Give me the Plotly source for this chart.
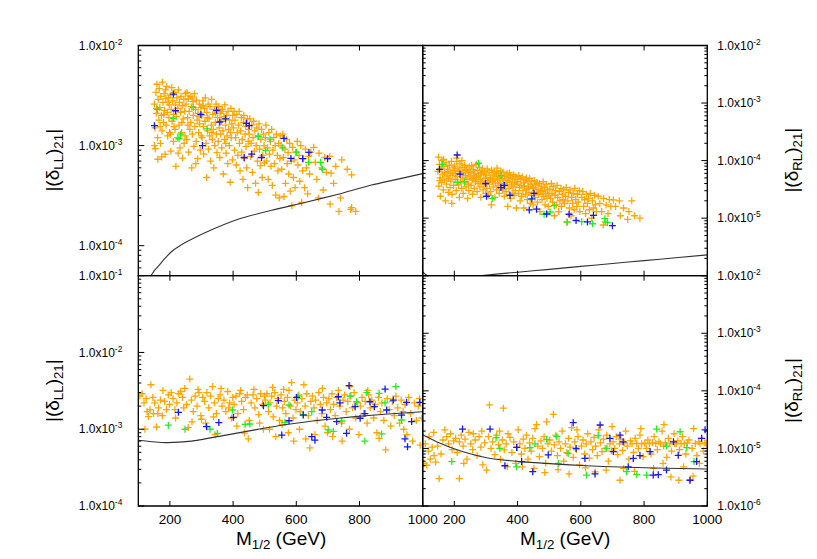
import math

import plotly.graph_objects as go

# ---------------------------------------------------------------------------
# data: (M_1/2 [GeV], |delta|) pairs per panel / colour
# ---------------------------------------------------------------------------
TL_ORANGE = [
    (151, 2.6e-3), (153, 1.5e-3), (156, 3.4e-3), (157, 2.1e-3), (159, 4.1e-3), (161, 1.2e-3), (163, 2.9e-3),
    (165, 1.8e-3), (166, 3.7e-3), (168, 2.4e-3), (170, 1.05e-3), (171, 3.1e-3), (173, 2.0e-3), (175, 1.4e-3),
    (176, 4.3e-3), (178, 2.7e-3), (180, 1.7e-3), (182, 3.3e-3), (183, 2.25e-3), (185, 8.2e-4), (187, 2.95e-3),
    (188, 1.6e-3), (190, 3.9e-3), (192, 2.15e-3), (193, 1.25e-3), (195, 3.0e-3), (197, 1.9e-3), (198, 2.55e-3),
    (154, 9.3e-4), (162, 7.3e-4), (174, 7.7e-4), (186, 3.6e-3), (199, 1.35e-3), (158, 2.35e-3), (169, 1.55e-3),
    (181, 2.05e-3), (194, 2.7e-3), (151, 1.0e-3),
    (201, 3.2e-3), (202, 1.3e-3), (204, 2.3e-3), (206, 3.8e-3), (207, 1.75e-3), (209, 2.8e-3), (211, 1.1e-3),
    (212, 2.05e-3), (214, 3.4e-3), (216, 1.45e-3), (217, 2.55e-3), (219, 6.2e-4), (220, 1.95e-3), (222, 3.0e-3),
    (224, 1.2e-3), (225, 2.35e-3), (227, 3.6e-3), (229, 1.6e-3), (230, 2.7e-3), (232, 9.5e-4), (234, 2.15e-3),
    (235, 3.1e-3), (237, 1.35e-3), (239, 2.5e-3), (240, 7.5e-4), (242, 1.85e-3), (244, 2.9e-3), (245, 1.05e-3),
    (247, 2.2e-3), (249, 3.3e-3), (203, 8.8e-4), (213, 1.55e-3), (226, 8.4e-4), (238, 1.7e-3), (248, 1.25e-3),
    (251, 2.6e-3), (253, 1.15e-3), (254, 3.4e-3), (256, 1.9e-3), (258, 2.95e-3), (259, 8.6e-4), (261, 2.2e-3),
    (263, 1.45e-3), (264, 3.1e-3), (266, 1.7e-3), (268, 2.45e-3), (269, 6.0e-4), (271, 1.3e-3), (273, 2.75e-3),
    (274, 2.0e-3), (276, 9.8e-4), (278, 3.3e-3), (279, 1.55e-3), (281, 2.3e-3), (283, 1.1e-3), (284, 2.85e-3),
    (286, 1.8e-3), (288, 7.4e-4), (289, 2.1e-3), (291, 1.35e-3), (293, 2.6e-3), (294, 1.65e-3), (296, 9.0e-4),
    (298, 2.4e-3), (299, 1.25e-3), (257, 1.6e-3), (270, 3.0e-3), (282, 6.6e-4), (292, 1.95e-3),
    (301, 2.0e-3), (302, 1.2e-3), (304, 2.8e-3), (306, 1.55e-3), (307, 8.2e-4), (309, 2.35e-3), (311, 1.75e-3),
    (312, 3.0e-3), (314, 1.05e-3), (316, 4.8e-4), (317, 2.15e-3), (319, 1.4e-3), (321, 2.6e-3), (322, 9.2e-4),
    (324, 1.85e-3), (326, 1.25e-3), (327, 2.45e-3), (329, 7.0e-4), (331, 1.6e-3), (332, 2.9e-3), (334, 1.15e-3),
    (336, 2.05e-3), (337, 1.45e-3), (339, 6.0e-4), (341, 2.3e-3), (342, 1.0e-3), (344, 1.7e-3), (346, 2.6e-3),
    (347, 1.3e-3), (349, 8.5e-4), (305, 2.5e-3), (318, 1.9e-3), (333, 1.35e-3), (345, 2.1e-3),
    (351, 1.9e-3), (353, 1.1e-3), (354, 2.45e-3), (356, 1.5e-3), (358, 7.6e-4), (359, 2.1e-3), (361, 1.3e-3),
    (363, 1.75e-3), (364, 9.5e-4), (366, 2.3e-3), (368, 1.4e-3), (369, 5.2e-4), (371, 1.95e-3), (373, 1.15e-3),
    (374, 2.55e-3), (376, 1.6e-3), (378, 8.4e-4), (379, 2.0e-3), (381, 1.25e-3), (383, 6.6e-4), (384, 2.2e-3),
    (386, 1.45e-3), (388, 1.0e-3), (389, 1.8e-3), (391, 4.3e-4), (393, 2.35e-3), (394, 1.2e-3), (396, 1.65e-3),
    (398, 7.2e-4), (399, 2.0e-3), (362, 2.2e-3), (377, 1.05e-3), (392, 1.35e-3),
    (401, 1.5e-3), (403, 2.2e-3), (405, 9.0e-4), (406, 1.8e-3), (408, 1.2e-3), (410, 6.4e-4), (412, 2.05e-3),
    (413, 1.35e-3), (415, 8.0e-4), (417, 1.6e-3), (419, 2.2e-3), (420, 1.05e-3), (422, 5.6e-4), (424, 1.4e-3),
    (426, 1.9e-3), (427, 8.6e-4), (429, 1.15e-3), (431, 4.6e-4), (433, 1.7e-3), (434, 2.0e-3), (436, 7.4e-4),
    (438, 1.3e-3), (440, 1.55e-3), (441, 9.8e-4), (443, 6.0e-4), (445, 1.85e-3), (446, 3.8e-4), (448, 1.1e-3),
    (449, 1.45e-3),
    (451, 1.3e-3), (453, 1.85e-3), (455, 7.8e-4), (457, 1.05e-3), (459, 1.6e-3), (461, 5.4e-4), (463, 1.2e-3),
    (465, 1.75e-3), (467, 8.8e-4), (469, 1.4e-3), (471, 4.2e-4), (473, 1.0e-3), (475, 1.5e-3), (477, 7.0e-4),
    (479, 1.25e-3), (480, 3.4e-4), (482, 1.65e-3), (484, 9.2e-4), (486, 6.3e-4), (488, 1.15e-3), (490, 1.45e-3),
    (492, 4.8e-4), (494, 8.0e-4), (496, 1.3e-3), (498, 1.0e-3), (499, 6.7e-4),
    (502, 1.2e-3), (504, 1.6e-3), (506, 7.0e-4), (509, 9.5e-4), (511, 4.6e-4), (513, 1.35e-3), (515, 8.2e-4),
    (518, 1.1e-3), (520, 6.2e-4), (522, 1.45e-3), (524, 4.0e-4), (526, 9.0e-4), (529, 1.2e-3), (531, 6.6e-4),
    (533, 1.0e-3), (535, 3.2e-4), (537, 1.3e-3), (540, 8.0e-4), (542, 5.6e-4), (544, 1.05e-3), (546, 3.0e-4),
    (548, 7.4e-4), (549, 1.25e-3),
    (552, 1.0e-3), (554, 5.8e-4), (557, 1.3e-3), (559, 7.6e-4), (561, 3.1e-4), (564, 9.2e-4), (566, 4.2e-4),
    (569, 1.15e-3), (571, 6.6e-4), (574, 8.5e-4), (576, 5.2e-4), (579, 1.05e-3), (581, 3.5e-4), (584, 7.0e-4),
    (586, 2.5e-4), (588, 9.6e-4), (591, 4.8e-4), (593, 7.2e-4), (596, 3.8e-4), (598, 8.6e-4),
    (603, 1.1e-3), (605, 6.4e-4), (608, 8.0e-4), (611, 4.4e-4), (614, 1.0e-3), (617, 2.7e-4), (620, 5.6e-4),
    (623, 7.4e-4), (626, 3.8e-4), (629, 9.2e-4), (632, 6.0e-4), (636, 3.3e-4), (639, 7.8e-4), (642, 5.2e-4),
    (646, 8.6e-4),
    (655, 9.6e-4), (672, 8.4e-4), (690, 7.6e-4), (660, 6.8e-4), (680, 6.0e-4), (695, 5.4e-4),
    (665, 4.6e-4), (685, 3.6e-4), (670, 3.0e-4),
    (706, 7.8e-4), (744, 7.2e-4), (710, 5.3e-4), (725, 6.2e-4), (761, 5.8e-4), (775, 5.1e-4),
    (707, 2.6e-4), (735, 2.2e-4), (772, 2.3e-4), (788, 2.2e-4), (775, 2.4e-4), (718, 4.2e-4), (740, 3.0e-4),
]
TL_GREEN = [
    (161, 2.3e-3), (211, 1.87e-3), (274, 2.41e-3), (234, 1.3e-3), (229, 1.17e-3), (318, 1.47e-3),
    (480, 1.24e-3), (517, 1.16e-3), (503, 8.95e-4), (557, 9.5e-4), (601, 8.6e-4), (639, 6.8e-4),
    (677, 6.8e-4), (683, 5.8e-4),
]
TL_BLUE = [
    (211, 3.27e-3), (151, 1.58e-3), (218, 2.23e-3), (298, 2.05e-3), (348, 2.25e-3), (358, 1.72e-3),
    (376, 1.85e-3), (442, 1.67e-3), (451, 1.58e-3), (303, 1.0e-3), (435, 7.6e-4), (459, 8.2e-4),
    (490, 7.6e-4), (561, 1.18e-3), (583, 7.45e-4), (620, 7.4e-4), (640, 8.55e-4), (699, 7.4e-4),
]
TL_CURVE_X = [140, 150, 163, 180, 205, 250, 311, 416, 522, 627, 733, 838, 1000]
TL_CURVE_Y = [5.0e-5, 5.6e-5, 6.2e-5, 7.2e-5, 8.7e-5, 1.08e-4, 1.35e-4, 1.84e-4, 2.26e-4,
              2.7e-4, 3.27e-4, 4.03e-4, 5.25e-4]

TR_ORANGE = [
    (148, 6.5e-5), (150, 1.15e-4), (151, 3.6e-5), (153, 8.6e-5), (155, 5.0e-5), (156, 2.4e-5), (158, 7.2e-5),
    (160, 4.2e-5), (161, 1.0e-4), (163, 5.8e-5), (165, 3.1e-5), (167, 7.9e-5), (168, 4.6e-5), (170, 6.2e-5),
    (172, 2.0e-5), (174, 9.2e-5), (175, 3.9e-5), (177, 5.4e-5), (179, 7.0e-5), (181, 2.8e-5), (182, 4.9e-5),
    (184, 8.3e-5), (186, 3.4e-5), (188, 6.0e-5), (189, 4.4e-5), (191, 9.7e-5), (193, 2.6e-5), (195, 5.6e-5),
    (196, 7.5e-5), (198, 3.7e-5), (199, 6.7e-5), (154, 4.5e-5), (166, 1.05e-4), (180, 6.4e-5), (192, 1.8e-5),
    (201, 8.0e-5), (203, 4.7e-5), (204, 6.0e-5), (206, 3.0e-5), (208, 9.6e-5), (209, 5.3e-5), (211, 7.2e-5),
    (213, 3.8e-5), (215, 6.6e-5), (216, 2.3e-5), (218, 8.8e-5), (220, 4.4e-5), (221, 5.9e-5), (223, 3.3e-5),
    (225, 7.6e-5), (227, 5.0e-5), (228, 2.7e-5), (230, 6.3e-5), (232, 4.1e-5), (233, 8.3e-5), (235, 5.5e-5),
    (237, 3.5e-5), (239, 7.0e-5), (240, 4.7e-5), (242, 2.2e-5), (244, 6.1e-5), (245, 3.9e-5), (247, 7.8e-5),
    (249, 5.2e-5), (207, 1.1e-4), (224, 1.0e-4), (236, 6.8e-5), (246, 3.0e-5),
    (251, 6.4e-5), (253, 3.7e-5), (255, 8.2e-5), (256, 4.9e-5), (258, 2.6e-5), (260, 7.0e-5), (262, 5.6e-5),
    (263, 3.3e-5), (265, 6.0e-5), (267, 4.3e-5), (269, 8.6e-5), (270, 5.1e-5), (272, 2.9e-5), (274, 6.7e-5),
    (275, 4.0e-5), (277, 5.4e-5), (279, 7.6e-5), (281, 3.5e-5), (282, 4.7e-5), (284, 2.3e-5), (286, 6.2e-5),
    (288, 4.4e-5), (289, 7.2e-5), (291, 3.1e-5), (293, 5.8e-5), (294, 3.8e-5), (296, 6.6e-5), (298, 4.9e-5),
    (299, 2.7e-5), (259, 4.6e-5), (283, 5.9e-5),
    (301, 5.6e-5), (303, 3.3e-5), (304, 7.2e-5), (306, 4.5e-5), (308, 2.5e-5), (310, 6.2e-5), (311, 3.9e-5),
    (313, 5.1e-5), (315, 2.9e-5), (317, 1.7e-5), (318, 6.8e-5), (320, 4.3e-5), (322, 5.6e-5), (323, 3.5e-5),
    (325, 4.8e-5), (327, 6.4e-5), (328, 2.3e-5), (330, 4.1e-5), (332, 5.3e-5), (333, 3.1e-5), (335, 7.4e-5),
    (337, 4.6e-5), (339, 3.7e-5), (340, 6.0e-5), (342, 2.7e-5), (344, 5.0e-5), (345, 4.0e-5), (347, 6.6e-5),
    (349, 3.4e-5), (314, 4.7e-5), (334, 5.9e-5),
    (351, 4.9e-5), (353, 3.1e-5), (354, 6.3e-5), (356, 4.0e-5), (358, 2.4e-5), (359, 5.4e-5), (361, 3.6e-5),
    (363, 4.6e-5), (364, 2.9e-5), (366, 5.9e-5), (368, 4.2e-5), (369, 1.6e-5), (371, 5.1e-5), (373, 3.3e-5),
    (374, 6.1e-5), (376, 4.4e-5), (378, 2.2e-5), (379, 5.5e-5), (381, 3.8e-5), (383, 2.7e-5), (384, 4.8e-5),
    (386, 3.5e-5), (388, 5.7e-5), (389, 2.5e-5), (391, 4.1e-5), (393, 3.0e-5), (394, 5.2e-5), (396, 1.5e-5),
    (398, 3.9e-5), (399, 4.7e-5),
    (401, 4.3e-5), (403, 2.7e-5), (404, 5.5e-5), (406, 3.4e-5), (408, 2.0e-5), (410, 4.8e-5), (411, 3.7e-5),
    (413, 2.4e-5), (415, 5.2e-5), (417, 3.0e-5), (419, 4.1e-5), (420, 1.5e-5), (422, 3.6e-5), (424, 4.6e-5),
    (426, 2.6e-5), (428, 5.0e-5), (429, 3.2e-5), (431, 2.1e-5), (433, 4.3e-5), (435, 3.5e-5), (436, 2.8e-5),
    (438, 4.9e-5), (440, 1.8e-5), (442, 3.9e-5), (444, 2.5e-5), (445, 4.4e-5), (447, 3.3e-5), (449, 1.7e-5),
    (451, 3.4e-5), (453, 4.5e-5), (455, 2.3e-5), (457, 3.8e-5), (459, 2.8e-5), (461, 4.2e-5), (463, 1.9e-5),
    (465, 3.2e-5), (467, 2.6e-5), (469, 4.0e-5), (471, 1.3e-5), (473, 3.0e-5), (475, 3.6e-5), (477, 2.1e-5),
    (479, 2.9e-5), (481, 4.3e-5), (483, 2.4e-5), (485, 3.4e-5), (487, 1.7e-5), (489, 2.7e-5), (491, 3.9e-5),
    (493, 2.2e-5), (495, 3.1e-5), (497, 1.6e-5), (499, 2.5e-5),
    (502, 3.2e-5), (504, 2.2e-5), (507, 4.0e-5), (509, 2.7e-5), (511, 1.9e-5), (513, 3.5e-5), (516, 1.1e-5),
    (518, 2.5e-5), (520, 3.0e-5), (523, 1.7e-5), (525, 3.7e-5), (527, 2.3e-5), (530, 1.3e-5), (532, 2.9e-5),
    (534, 2.0e-5), (537, 3.3e-5), (539, 1.6e-5), (541, 2.6e-5), (544, 2.1e-5), (546, 3.1e-5), (548, 1.8e-5),
    (552, 2.4e-5), (554, 3.4e-5), (556, 8.6e-6), (559, 2.0e-5), (561, 2.8e-5), (564, 1.5e-5), (566, 3.1e-5),
    (569, 1.1e-5), (571, 2.3e-5), (574, 1.8e-5), (576, 2.7e-5), (579, 1.4e-5), (581, 3.3e-5), (584, 2.1e-5),
    (587, 1.6e-5), (589, 2.6e-5), (592, 1.9e-5), (595, 3.0e-5), (597, 1.3e-5),
    (603, 2.3e-5), (606, 2.9e-5), (609, 1.6e-5), (612, 2.1e-5), (615, 1.2e-5), (618, 2.6e-5), (621, 1.8e-5),
    (624, 2.2e-5), (627, 1.4e-5), (630, 2.7e-5), (634, 1.0e-5), (637, 2.0e-5), (640, 1.5e-5), (643, 2.5e-5),
    (646, 1.7e-5), (649, 1.3e-5),
    (655, 2.4e-5), (672, 2.2e-5), (690, 2.1e-5), (660, 1.8e-5), (680, 1.7e-5), (695, 1.6e-5),
    (666, 1.3e-5), (686, 1.2e-5), (671, 7.6e-6), (677, 8.6e-6),
    (703, 2.07e-5), (722, 2.0e-5), (761, 2.0e-5), (710, 1.6e-5), (735, 1.5e-5), (752, 1.3e-5),
    (725, 1.1e-5), (748, 9.5e-6), (787, 1.0e-5), (770, 1.1e-5),
]
TR_GREEN = [
    (162, 8.6e-5), (276, 9.0e-5), (209, 4.2e-5), (232, 4.3e-5), (348, 5.5e-5), (320, 2.19e-5),
    (516, 1.65e-5), (503, 1.28e-5), (484, 1.17e-5), (557, 8.5e-6), (603, 8.7e-6), (637, 8.0e-6),
    (676, 9.8e-6), (684, 8.4e-6),
]
TR_BLUE = [
    (209, 1.25e-4), (153, 7.06e-5), (218, 5.8e-5), (299, 4.0e-5), (347, 3.4e-5), (358, 3.7e-5),
    (302, 2.4e-5), (376, 2.5e-5), (452, 2.7e-5), (445, 2.16e-5), (437, 1.39e-5), (460, 1.43e-5),
    (492, 1.18e-5), (563, 1.17e-5), (585, 9.1e-6), (621, 8.6e-6), (640, 1.12e-5), (700, 7.4e-6),
]
TR_CURVE_X = [100, 115, 140, 180, 230, 280, 400, 500, 600, 700, 800, 900, 1000]
TR_CURVE_Y = [1.16e-6, 1.0e-6, 9.2e-7, 8.8e-7, 9.2e-7, 1.0e-6, 1.15e-6, 1.29e-6, 1.45e-6,
              1.63e-6, 1.83e-6, 2.05e-6, 2.3e-6]

BL_ORANGE = [
    (105, 2.7e-3), (112, 2.9e-3), (118, 2.2e-3), (125, 2.5e-3), (132, 1.46e-3), (140, 3.8e-3), (146, 2.6e-3),
    (152, 2.2e-3), (158, 1.07e-3), (164, 1.9e-3), (170, 2.4e-3), (176, 1.5e-3), (183, 2.3e-3), (189, 1.8e-3),
    (195, 2.8e-3), (121, 1.0e-3), (137, 1.8e-3), (148, 1.6e-3), (178, 3.2e-3), (199, 2.1e-3), (128, 1.7e-3),
    (162, 1.6e-3),
    (204, 3.0e-3), (210, 2.5e-3), (216, 1.8e-3), (222, 2.2e-3), (228, 2.9e-3), (234, 3.1e-3), (240, 2.6e-3),
    (247, 3.4e-3), (253, 2.1e-3), (258, 1.05e-3), (263, 4.5e-3), (268, 2.4e-3), (274, 1.7e-3), (280, 2.7e-3),
    (286, 2.0e-3), (292, 3.0e-3), (298, 1.5e-3), (300, 1.35e-3), (218, 1.4e-3), (244, 1.9e-3), (270, 1.25e-3),
    (289, 3.3e-3),
    (304, 2.6e-3), (310, 2.3e-3), (317, 3.0e-3), (323, 1.9e-3), (329, 2.7e-3), (335, 3.6e-3), (341, 2.2e-3),
    (343, 8.5e-4), (347, 1.6e-3), (353, 2.5e-3), (359, 2.8e-3), (365, 2.0e-3), (371, 2.4e-3), (377, 1.7e-3),
    (383, 3.1e-3), (389, 2.2e-3), (395, 1.4e-3), (399, 2.6e-3), (313, 1.2e-3), (338, 1.45e-3), (362, 3.4e-3),
    (386, 1.9e-3),
    (403, 2.1e-3), (409, 2.7e-3), (415, 1.6e-3), (421, 2.9e-3), (427, 2.3e-3), (433, 1.8e-3), (439, 2.6e-3),
    (445, 2.8e-3), (451, 1.3e-3), (457, 2.2e-3), (463, 2.8e-3), (469, 1.9e-3), (475, 2.5e-3), (481, 1.55e-3),
    (487, 2.9e-3), (493, 2.1e-3), (499, 2.7e-3), (412, 1.1e-3), (436, 8.9e-4), (448, 7.5e-4), (466, 3.3e-3),
    (484, 1.2e-3), (424, 3.2e-3), (496, 1.0e-3),
    (502, 2.4e-3), (507, 2.9e-3), (512, 1.7e-3), (517, 2.2e-3), (522, 2.7e-3), (527, 1.45e-3), (532, 3.0e-3),
    (537, 2.0e-3), (542, 2.5e-3), (547, 1.3e-3), (552, 2.8e-3), (557, 1.9e-3), (562, 2.3e-3), (567, 1.6e-3),
    (572, 2.6e-3), (577, 3.2e-3), (582, 2.0e-3), (585, 4.05e-3), (590, 1.4e-3), (595, 2.4e-3), (599, 1.8e-3),
    (515, 1.0e-3), (535, 8.0e-4), (555, 1.15e-3), (575, 9.0e-4), (592, 7.0e-4), (525, 3.5e-3), (560, 3.3e-3),
    (603, 2.2e-3), (608, 2.8e-3), (613, 1.7e-3), (618, 2.5e-3), (624, 3.8e-3), (628, 2.0e-3), (633, 2.9e-3),
    (638, 1.5e-3), (643, 5.7e-4), (646, 2.3e-3), (651, 2.7e-3), (656, 1.9e-3), (661, 2.4e-3), (666, 1.3e-3),
    (671, 3.0e-3), (676, 2.1e-3), (681, 1.6e-3), (686, 2.6e-3), (691, 1.1e-3), (696, 2.2e-3), (610, 1.0e-3),
    (630, 7.5e-4), (659, 8.5e-4), (683, 3.4e-3), (699, 9.0e-4),
    (703, 2.5e-3), (708, 1.8e-3), (713, 2.9e-3), (718, 2.1e-3), (723, 1.5e-3), (728, 2.6e-3), (733, 3.2e-3),
    (738, 2.0e-3), (743, 1.2e-3), (748, 2.4e-3), (753, 2.8e-3), (758, 1.7e-3), (763, 2.3e-3), (768, 1.0e-3),
    (773, 2.7e-3), (778, 1.9e-3), (783, 3.0e-3), (788, 1.4e-3), (793, 2.2e-3), (798, 8.5e-4), (715, 8.0e-4),
    (745, 7.0e-4), (770, 3.6e-3),
    (803, 2.0e-3), (808, 2.6e-3), (813, 1.6e-3), (818, 2.3e-3), (824, 1.2e-3), (829, 2.8e-3), (834, 1.9e-3),
    (839, 2.4e-3), (845, 1.4e-3), (850, 2.1e-3), (855, 9.0e-4), (860, 2.6e-3), (866, 1.7e-3), (871, 2.2e-3),
    (877, 1.3e-3), (883, 5.4e-4), (888, 2.5e-3), (894, 1.8e-3), (899, 1.1e-3), (826, 3.2e-3), (862, 7.6e-4),
    (904, 2.3e-3), (910, 1.5e-3), (915, 2.7e-3), (921, 1.9e-3), (927, 1.2e-3), (932, 2.4e-3), (938, 1.7e-3),
    (944, 2.1e-3), (950, 8.5e-4), (956, 2.6e-3), (962, 1.6e-3), (968, 7.0e-4), (974, 2.2e-3), (980, 1.3e-3),
    (986, 2.0e-3), (992, 6.2e-4), (997, 1.4e-3), (940, 1.0e-3), (990, 2.5e-3),
]
BL_GREEN = [
    (195, 1.13e-3), (248, 1.0e-3), (327, 1.0e-3), (350, 8.85e-4), (398, 1.78e-3), (438, 1.16e-3),
    (453, 1.17e-3), (511, 2.1e-3), (564, 1.23e-3), (577, 2.07e-3), (606, 2.7e-3), (622, 1.56e-3),
    (649, 1.7e-3), (701, 9.8e-4), (717, 9.4e-4), (744, 1.28e-3), (770, 2.7e-3), (791, 2.28e-3),
    (817, 7.0e-4), (823, 3.0e-3), (862, 2.94e-3), (870, 8.7e-4), (881, 2.2e-3), (915, 3.6e-3),
    (933, 1.32e-3),
]
BL_BLUE = [
    (227, 1.66e-3), (316, 1.08e-3), (355, 1.22e-3), (401, 1.43e-3), (496, 2.03e-3), (543, 2.36e-3),
    (554, 8.4e-4), (577, 1.29e-3), (601, 2.6e-3), (622, 1.53e-3), (649, 8.0e-4), (659, 7.2e-4),
    (682, 1.78e-3), (696, 1.43e-3), (728, 1.26e-3), (733, 2.65e-3), (738, 2.2e-3), (759, 8.85e-4),
    (767, 3.7e-3), (786, 1.97e-3), (802, 1.39e-3), (817, 1.6e-3), (833, 2.28e-3), (847, 1.97e-3),
    (881, 3.34e-3), (886, 1.78e-3), (907, 2.4e-3), (933, 1.53e-3), (944, 7.5e-4), (952, 5.9e-4),
    (949, 2.24e-3), (965, 1.26e-3), (991, 2.24e-3),
]
BL_CURVE_X = [100, 184, 269, 364, 469, 575, 680, 786, 891, 1000]
BL_CURVE_Y = [7.2e-4, 6.7e-4, 7.0e-4, 8.2e-4, 9.8e-4, 1.16e-3, 1.32e-3, 1.46e-3, 1.58e-3, 1.69e-3]

BR_ORANGE = [
    (103, 5.5e-6), (108, 1.2e-5), (113, 5.1e-6), (118, 9.0e-6), (124, 6.5e-6), (130, 1.05e-5), (136, 7.5e-6),
    (141, 5.8e-6), (147, 1.1e-5), (152, 3.0e-6), (158, 8.0e-6), (164, 1.4e-5), (170, 2.1e-5), (176, 1.6e-5),
    (182, 1.2e-5), (188, 1.8e-5), (193, 9.5e-6), (198, 1.35e-5), (135, 1.9e-5), (120, 1.6e-5),
    (204, 1.5e-5), (209, 8.5e-6), (216, 1.3e-5), (216, 3.0e-6), (222, 1.7e-5), (228, 1.1e-5), (234, 1.45e-5),
    (240, 6.5e-6), (246, 1.9e-5), (252, 1.2e-5), (258, 9.5e-6), (260, 1.8e-5), (266, 1.4e-5), (272, 7.5e-6),
    (278, 1.6e-5), (284, 1.05e-5), (290, 5.2e-6), (296, 1.25e-5), (230, 5.5e-6), (287, 2.0e-5),
    (302, 4.2e-6), (308, 1.6e-5), (311, 5.7e-5), (316, 1.0e-5), (321, 1.3e-5), (328, 7.8e-6), (334, 1.7e-5),
    (340, 1.15e-5), (346, 6.5e-6), (352, 1.4e-5), (355, 5.0e-5), (358, 9.4e-6), (364, 1.2e-5), (370, 1.8e-5),
    (376, 1.55e-5), (382, 8.5e-6), (388, 1.3e-5), (394, 5.5e-6), (399, 1.05e-5), (343, 2.0e-5), (367, 4.8e-6),
    (402, 2.1e-5), (407, 1.2e-5), (412, 8.0e-6), (418, 1.45e-5), (423, 1.0e-5), (428, 1.7e-5), (433, 6.5e-6),
    (438, 1.25e-5), (443, 9.0e-6), (448, 1.5e-5), (455, 2.2e-5), (460, 2.6e-5), (464, 1.1e-5), (469, 7.2e-6),
    (474, 1.35e-5), (479, 1.0e-5), (484, 1.6e-5), (489, 5.5e-6), (492, 2.9e-5), (496, 1.2e-5), (415, 4.8e-6),
    (452, 4.5e-6), (486, 3.8e-6),
    (502, 1.4e-5), (507, 9.0e-6), (513, 3.9e-5), (516, 1.15e-5), (521, 1.7e-5), (526, 7.5e-6), (531, 1.3e-5),
    (536, 1.0e-5), (541, 2.0e-5), (546, 6.0e-6), (551, 1.2e-5), (556, 8.5e-6), (561, 1.5e-5), (566, 1.05e-5),
    (571, 2.3e-5), (576, 7.0e-6), (581, 1.3e-5), (586, 9.5e-6), (591, 1.6e-5), (596, 5.2e-6), (528, 4.3e-6),
    (563, 3.6e-6), (588, 2.1e-5),
    (602, 1.1e-5), (607, 1.4e-5), (612, 8.0e-6), (617, 1.2e-5), (622, 1.8e-5), (627, 6.8e-6), (632, 1.3e-5),
    (637, 9.5e-6), (642, 1.55e-5), (647, 1.1e-5), (652, 7.5e-6), (657, 2.1e-5), (662, 1.25e-5), (667, 8.8e-6),
    (672, 1.45e-5), (677, 1.0e-5), (682, 1.7e-5), (687, 6.0e-6), (692, 1.2e-5), (697, 9.0e-6), (615, 4.6e-6),
    (645, 3.9e-6), (680, 4.2e-6), (699, 2.4e-5),
    (702, 1.3e-5), (707, 1.0e-5), (712, 1.6e-5), (717, 7.8e-6), (722, 1.2e-5), (724, 2.8e-6), (727, 1.45e-5),
    (732, 9.2e-6), (737, 1.25e-5), (742, 2.0e-5), (747, 1.1e-5), (752, 6.5e-6), (757, 1.35e-5), (762, 1.2e-5),
    (767, 8.5e-6), (772, 1.5e-5), (777, 1.22e-5), (782, 1.0e-5), (787, 1.7e-5), (792, 1.2e-5), (797, 7.2e-6),
    (735, 4.5e-6), (770, 4.0e-6), (790, 2.2e-5),
    (802, 1.23e-5), (807, 1.0e-5), (812, 1.4e-5), (817, 1.2e-5), (822, 8.0e-6), (827, 1.25e-5), (832, 1.6e-5),
    (837, 1.22e-5), (842, 9.5e-6), (847, 1.3e-5), (852, 1.2e-5), (857, 2.0e-5), (862, 1.1e-5), (867, 1.25e-5),
    (872, 7.0e-6), (877, 1.5e-5), (882, 1.2e-5), (887, 9.0e-6), (863, 2.6e-5), (897, 1.22e-5), (830, 4.5e-6),
    (860, 5.5e-6), (885, 3.2e-6), (895, 1.8e-5),
    (902, 1.2e-5), (907, 1.35e-5), (912, 9.5e-6), (917, 1.22e-5), (922, 1.6e-5), (927, 1.2e-5), (932, 8.0e-6),
    (937, 1.25e-5), (942, 1.4e-5), (947, 2.8e-6), (910, 2.8e-6), (952, 1.0e-5), (957, 2.2e-5), (962, 1.22e-5),
    (967, 7.5e-6), (972, 1.3e-5), (977, 1.2e-5), (982, 1.5e-5), (987, 9.0e-6), (992, 1.25e-5), (997, 1.2e-5),
    (955, 3.3e-6), (975, 5.5e-6), (925, 4.8e-6),
]
BR_GREEN = [
    (192, 5.9e-6), (332, 1.54e-5), (344, 1.0e-5), (397, 4.8e-6), (439, 1.03e-5), (455, 1.2e-5),
    (492, 1.44e-5), (524, 1.6e-5), (529, 5.5e-6), (560, 8.2e-6), (618, 3.45e-6), (655, 1.67e-5),
    (682, 1.0e-5), (745, 3.95e-6), (777, 3.5e-6), (808, 3.45e-6), (840, 2.17e-5), (871, 1.1e-5),
    (914, 1.95e-5), (935, 1.03e-5), (958, 5.9e-6),
]
BR_BLUE = [
    (226, 2.17e-5), (313, 2.17e-5), (360, 5.0e-6), (397, 1.04e-5), (413, 5.9e-6), (448, 3.95e-6),
    (497, 7.7e-6), (576, 2.8e-5), (585, 1.0e-5), (613, 6.7e-6), (645, 3.6e-6), (661, 2.55e-5),
    (692, 1.5e-5), (703, 8.8e-6), (724, 1.7e-5), (734, 1.3e-5), (750, 4.8e-6), (766, 6.7e-6),
    (787, 7.5e-6), (819, 8.8e-6), (829, 3.45e-6), (845, 3.5e-6), (871, 4.2e-6), (893, 1.3e-5),
    (908, 7.6e-6), (945, 2.8e-6), (966, 5.9e-6), (982, 1.5e-5), (993, 2.1e-5),
]
BR_CURVE_X = [100, 144, 197, 250, 302, 408, 513, 618, 724, 829, 1000]
BR_CURVE_Y = [1.72e-5, 1.31e-5, 1.0e-5, 8.1e-6, 6.9e-6, 5.9e-6, 5.4e-6, 5.0e-6, 4.75e-6, 4.57e-6, 4.4e-6]

X_RANGE = [100, 1000]
X_TICKS = [200, 400, 600, 800, 1000]

ORANGE = '#FFA500'
GREEN = '#22EE22'
BLUE = '#1818E8'
FONT = 'Liberation Sans, Arial, Helvetica, sans-serif'

W, H = 817, 559
PAGE_MARGIN = 8  # the browser puts the figure 8px in from the page corner
# panel edges in page pixels (left, middle, right / top, middle, bottom)
PX = [138.3, 422.7, 707.3]
PY = [45.5, 275.7, 506.0]


def fx(px):
    return (px - PAGE_MARGIN) / W


def fy(py):
    return 1 - (py - PAGE_MARGIN) / H


def sci_label(v):
    return '1.0x10<sup>%d</sup>' % int(round(math.log10(v)))


def frame_and_ticks(x0, x1, y0, y1, yr, both_sides):
    """Panel frame plus inward ticks (paper coords, pixel lengths)."""
    out = [dict(type='rect', xref='paper', yref='paper', x0=x0, x1=x1, y0=y0, y1=y1,
                line=dict(color='black', width=1.3), layer='above')]
    tick = dict(type='line', xref='paper', yref='paper', layer='above',
                line=dict(color='black', width=1))
    for v in X_TICKS:
        xp = x0 + (v - X_RANGE[0]) / (X_RANGE[1] - X_RANGE[0]) * (x1 - x0)
        out.append(dict(tick, x0=xp, x1=xp, ysizemode='pixel', yanchor=y0, y0=0, y1=5))
        out.append(dict(tick, x0=xp, x1=xp, ysizemode='pixel', yanchor=y1, y0=0, y1=-5))
    lo, hi = int(math.floor(yr[0])), int(math.ceil(yr[1]))
    for e in range(lo, hi + 1):
        for m in range(1, 10):
            lv = math.log10(m) + e
            if lv < yr[0] - 1e-9 or lv > yr[1] + 1e-9:
                continue
            yp = y0 + (lv - yr[0]) / (yr[1] - yr[0]) * (y1 - y0)
            ln = 6 if m == 1 else 3
            out.append(dict(tick, y0=yp, y1=yp, xsizemode='pixel', xanchor=x0, x0=0, x1=ln))
            if both_sides:
                out.append(dict(tick, y0=yp, y1=yp, xsizemode='pixel', xanchor=x1, x0=0, x1=-ln))
    return out


fig = go.Figure()

panels = [
    # (axis suffix, orange, green, blue, curve x, curve y)
    ('', TL_ORANGE, TL_GREEN, TL_BLUE, TL_CURVE_X, TL_CURVE_Y),
    ('2', TR_ORANGE, TR_GREEN, TR_BLUE, TR_CURVE_X, TR_CURVE_Y),
    ('3', BL_ORANGE, BL_GREEN, BL_BLUE, BL_CURVE_X, BL_CURVE_Y),
    ('4', BR_ORANGE, BR_GREEN, BR_BLUE, BR_CURVE_X, BR_CURVE_Y),
]

for suffix, orange, green, blue, cx, cy in panels:
    for pts, col in ((orange, ORANGE), (green, GREEN), (blue, BLUE)):
        fig.add_trace(go.Scatter(
            x=[p[0] for p in pts], y=[p[1] for p in pts],
            mode='markers', xaxis='x' + suffix, yaxis='y' + suffix,
            marker=dict(symbol='cross-thin', size=5, color=col,
                        line=dict(color=col, width=1.3)),
            showlegend=False, hoverinfo='skip'))
    fig.add_trace(go.Scatter(
        x=cx, y=cy, mode='lines', xaxis='x' + suffix, yaxis='y' + suffix,
        line=dict(color='#333333', width=1.1, shape='spline', smoothing=0.6),
        showlegend=False, hoverinfo='skip'))

axis_common = dict(showline=False, ticks='', showgrid=False, zeroline=False,
                   tickfont=dict(family=FONT, size=12, color='black'))

# (suffix, column, row, log range, major decades, side)
y_specs = [
    ('', 0, 0, [-4.3, -2], [-4, -3, -2], 'left'),
    ('2', 1, 0, [-6, -2], [-5, -4, -3, -2], 'right'),
    ('3', 0, 1, [-4, -1], [-4, -3, -2, -1], 'left'),
    ('4', 1, 1, [-6, -2], [-6, -5, -4, -3, -2], 'right'),
]

layout = {}
shapes = []
for suffix, col, row, yr, decs, side in y_specs:
    x0, x1 = fx(PX[col]), fx(PX[col + 1])
    y0, y1 = fy(PY[row + 1]), fy(PY[row])
    layout['xaxis' + suffix] = dict(
        axis_common, domain=[x0, x1], anchor='y' + suffix, range=X_RANGE,
        tickmode='array', tickvals=X_TICKS,
        showticklabels=(row == 1), ticklabelstandoff=3,
        tickfont=dict(family=FONT, size=13.5, color='black'))
    tv = [10.0 ** d for d in decs]
    layout['yaxis' + suffix] = dict(
        axis_common, domain=[y0, y1], anchor='x' + suffix, type='log',
        range=yr, side=side, tickmode='array', tickvals=tv,
        ticktext=[sci_label(v) for v in tv],
        ticklabelstandoff=15 if side == 'left' else 9)
    shapes += frame_and_ticks(x0, x1, y0, y1, yr, both_sides=(side == 'right'))

title_font = dict(family=FONT, size=19, color='black')
annotations = [
    dict(text='M<sub>1/2</sub> (GeV)', x=fx(280.5), y=fy(539.5)),
    dict(text='M<sub>1/2</sub> (GeV)', x=fx(565.0), y=fy(539.5)),
    dict(text='|(\u03b4<sub>LL</sub>)<sub>21</sub>|', x=fx(54), y=fy(160.6), textangle=-90),
    dict(text='|(\u03b4<sub>LL</sub>)<sub>21</sub>|', x=fx(54), y=fy(391.0), textangle=-90),
    dict(text='|(\u03b4<sub>RL</sub>)<sub>21</sub>|', x=fx(793), y=fy(160.6), textangle=-90),
    dict(text='|(\u03b4<sub>RL</sub>)<sub>21</sub>|', x=fx(793), y=fy(391.0), textangle=-90),
]
for a in annotations:
    a.update(xref='paper', yref='paper', showarrow=False, font=title_font,
             xanchor='center', yanchor='middle')

fig.update_layout(
    width=W, height=H,
    margin=dict(l=0, r=0, t=0, b=0, autoexpand=False),
    paper_bgcolor='white', plot_bgcolor='white',
    annotations=annotations, shapes=shapes,
    **layout
)

fig.write_html("out.html")
